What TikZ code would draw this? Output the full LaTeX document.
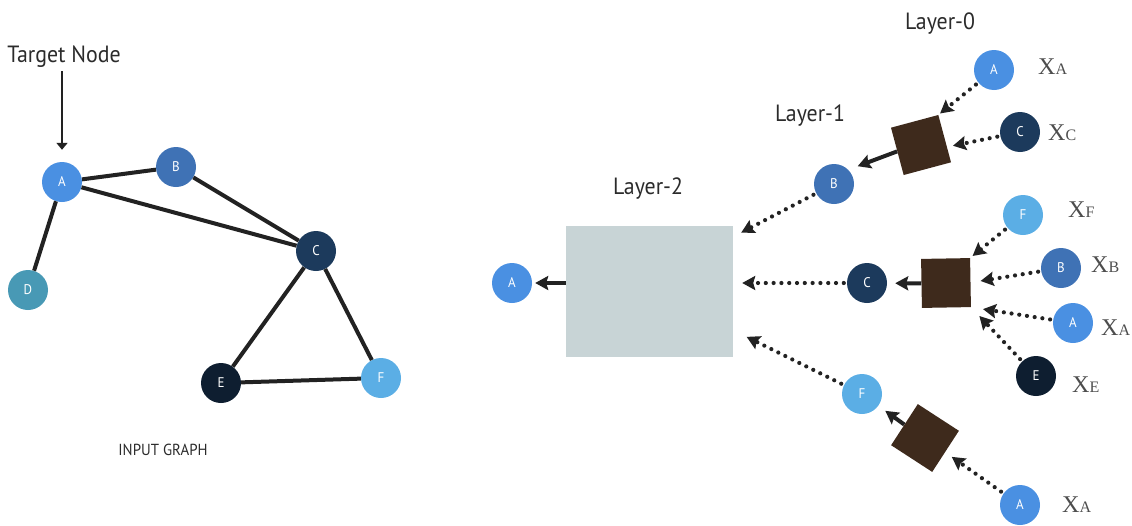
\documentclass[tikz,border=0pt]{standalone}
\usepackage{fontspec}
\setmainfont{Liberation Serif}
\newfontfamily\labfont[FakeStretch=0.93]{PT Sans}
\usetikzlibrary{arrows.meta,calc}

\definecolor{colA}{HTML}{4A90E2}
\definecolor{colB}{HTML}{3F72B5}
\definecolor{colC}{HTML}{1C3A5C}
\definecolor{colD}{HTML}{4899B5}
\definecolor{colE}{HTML}{0E1E30}
\definecolor{colF}{HTML}{5BAEE5}
\definecolor{aggbrown}{HTML}{3E2A1C}
\definecolor{boxgray}{HTML}{C8D4D6}
\definecolor{edgecol}{HTML}{222222}
\definecolor{featgray}{HTML}{4D4D4D}
\definecolor{titlegray}{HTML}{2B2B2B}

\begin{document}
\begin{tikzpicture}[x=1pt,y=-1pt,
  vert/.style={circle,minimum size=40pt,inner sep=0pt,text=white,
    font=\labfont\fontsize{14}{14}\selectfont},
  agg/.style={rectangle,fill=aggbrown,minimum size=49pt,inner sep=0pt},
  title/.style={text=titlegray,font=\labfont\fontsize{23.5}{23.5}\selectfont},
  feat/.style={text=featgray,inner sep=0pt,font=\fontsize{24}{24}\selectfont},
  sub/.style={},
  edge/.style={draw=edgecol,line width=4pt},
  solidarrow/.style={draw=edgecol,line width=4pt,
    -{Stealth[length=13pt,width=14pt,inset=2pt]}},
  dotarrow/.style={draw=edgecol,line width=4.2pt,line cap=round,
    dash pattern=on 0pt off 7.8pt,
    -{Stealth[length=13pt,width=14pt,inset=2pt]}},
]
\useasboundingbox (0,0) rectangle (1132,525);

% ---------- input graph ----------
\node[vert,fill=colA] (gA) at (62,182) {A};
\node[vert,fill=colB] (gB) at (176,167) {B};
\node[vert,fill=colC] (gC) at (316,251) {C};
\node[vert,fill=colD] (gD) at (28,290) {D};
\node[vert,fill=colE] (gE) at (221,383) {E};
\node[vert,fill=colF] (gF) at (381,378) {F};

\draw[edge] (gA) -- (gB);
\draw[edge] (gA) -- (gC);
\draw[edge] (gA) -- (gD);
\draw[edge] (gB) -- (gC);
\draw[edge] (gC) -- (gE);
\draw[edge] (gC) -- (gF);
\draw[edge] (gE) -- (gF);

\node[title] (tn) at (64,57) {Target Node};
\draw[draw=edgecol,line width=2pt,-{Triangle[length=7pt,width=11pt]},
  shorten >=12pt] (gA |- tn.south) -- (gA);

\node[text=titlegray,font=\labfont\fontsize{16}{16}\selectfont] (ig) at (163,450) {INPUT GRAPH};

% ---------- layer 2 ----------
\node[rectangle,fill=boxgray,minimum width=167pt,minimum height=131pt,inner sep=0pt]
  (gb) at (649.5,291.5) {};
\node[vert,fill=colA] (oA) at (512,283) {A};
\draw[solidarrow,shorten >=3pt] (gb.west |- oA) -- (oA);
\node[title] (l2) at (648,189) {Layer-2};

% ---------- layer 1 ----------
\node[title] (l1) at (810,116) {Layer-1};
\node[vert,fill=colB] (b1) at (834,184) {B};
\node[vert,fill=colC] (c1) at (867,283) {C};
\node[vert,fill=colF] (f1) at (862,394) {F};

\draw[dotarrow,shorten <=3pt,shorten >=9pt] (b1) -- ($(gb.north east)+(0,11)$);
\draw[dotarrow,shorten <=3pt,shorten >=9pt] (c1) -- (gb.east |- c1);
\draw[dotarrow,shorten <=3pt,shorten >=15pt] (f1) -- ($(gb.south east)+(0,-27)$);

% aggregation boxes
\node[agg,rotate=15] (tb) at (921,145) {};
\node[agg,rotate=1] (mb) at (946,283) {};
\node[agg,rotate=-33] (bb) at (925,438) {};

\draw[solidarrow,shorten >=10pt] (tb.west) -- (b1.north east);
\draw[solidarrow,shorten >=8pt] (mb.west) -- (c1);
\draw[solidarrow,shorten >=8.5pt] (bb.west) -- (f1);

% ---------- layer 0 ----------
\node[title] (l0) at (940,24) {Layer-0};

\node[vert,fill=colA] (a0) at (994,70) {A};
\node[vert,fill=colC] (c0) at (1020,132) {C};
\node[vert,fill=colF] (f0) at (1023,215) {F};
\node[vert,fill=colB] (b0) at (1061,268) {B};
\node[vert,fill=colA] (a0m) at (1073,323) {A};
\node[vert,fill=colE] (e0) at (1036,376) {E};
\node[vert,fill=colA] (a0b) at (1020,505) {A};

\newcommand\feature[1]{X{\fontsize{16}{16}\selectfont #1}}
\node[feat,anchor=west] (xa1) at (1038,67) {\feature{A}};
\node[feat,anchor=west] (xc) at (1048,133) {\feature{C}};
\node[feat,anchor=west] (xf) at (1068,210) {\feature{F}};
\node[feat,anchor=west] (xb) at (1091,265) {\feature{B}};
\node[feat,anchor=west] (xa2) at (1101,328) {\feature{A}};
\node[feat,anchor=west] (xe) at (1072,385) {\feature{E}};
\node[feat,anchor=west] (xa3) at (1062,505) {\feature{A}};

\draw[dotarrow,shorten <=3pt,shorten >=2pt] (a0) -- (tb.north east);
\draw[dotarrow,shorten <=3pt,shorten >=6pt] (c0) -- ($(tb.east)!0.35!(tb.south east)$);

\draw[dotarrow,shorten <=3pt,shorten >=3pt] (f0) -- (mb.north east);
\draw[dotarrow,shorten <=3pt,shorten >=10pt] (b0) -- (mb.east);
\draw[dotarrow,shorten <=3pt,shorten >=12pt] (a0m) -- (mb.south east);
\draw[dotarrow,shorten <=3pt,shorten >=12pt] (e0) -- (mb.south east);

\draw[dotarrow,shorten <=3pt,shorten >=8pt] (a0b) -- (bb);
\end{tikzpicture}
\end{document}
